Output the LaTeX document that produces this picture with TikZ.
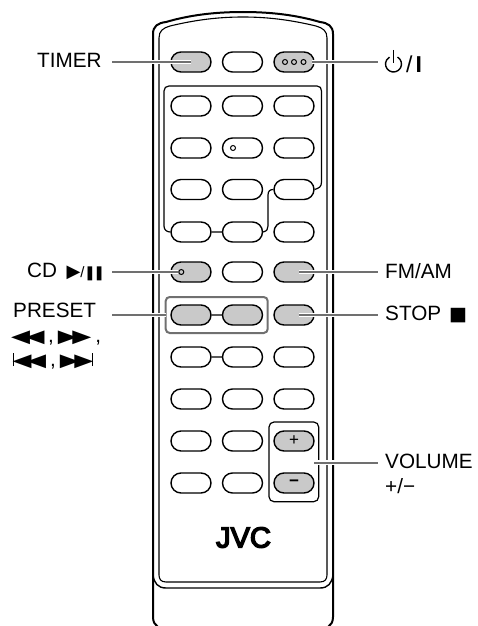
\documentclass[tikz,border=0pt]{standalone}
\usepackage{fontspec}
\setmainfont{Liberation Sans}
\newfontfamily\symfont{DejaVu Sans}
\newfontfamily\logofont[FakeBold=5]{Liberation Sans}
\usetikzlibrary{shapes.misc}
\definecolor{keyon}{HTML}{C9C9C9}
\definecolor{leadgray}{HTML}{707070}
\newcommand{\rwd}{\scalebox{1.3}[0.95]{\symfont\fontsize{19}{20}\selectfont ◀\kern-3.5pt◀}}
\newcommand{\fwd}{\scalebox{1.3}[0.95]{\symfont\fontsize{19}{20}\selectfont ▶\kern-3.5pt▶}}
\tikzset{
  btn/.style={rounded rectangle,draw,line width=1.4pt,minimum width=40pt,minimum height=20pt,inner sep=0pt},
  leader/.style={leadgray,line width=2pt,preaction={draw=white,line width=4.2pt}},
  lbl/.style={anchor=base west,inner sep=0pt,font=\fontsize{20.7}{24}\selectfont},
  panel/.style={line width=1.2pt,rounded corners=5pt}
}
\begin{document}
\begin{tikzpicture}[x=1pt,y=-1pt]
\useasboundingbox (0,0) rectangle (477,626);

% Remote body
\draw[line width=2pt] (158,627) .. controls (155,625) and (153,622) .. (153,617) -- (153,34)
  .. controls (153,26) and (158,23) .. (166,22) .. controls (190,15) and (215,12) .. (243,12)
  .. controls (271,12) and (296,15) .. (320,22) .. controls (328,23) and (333,26) .. (333,34)
  -- (333,617) .. controls (333,622) and (331,625) .. (328,627);
\draw[line width=1.1pt] (159,575) -- (159,38) .. controls (159,31) and (163,28) .. (170,26)
  .. controls (195,20) and (218,17) .. (243,17) .. controls (268,17) and (291,20) .. (316,26)
  .. controls (323,28) and (327,31) .. (327,38) -- (327,575)
  .. controls (327,579) and (325,582) .. (320,582) -- (166,582) .. controls (161,582) and (159,579) .. (159,575);
\draw[line width=1.4pt] (153,575) .. controls (154,583) and (158,588) .. (166,588) -- (320,588)
  .. controls (328,588) and (332,583) .. (333,575);

% Buttons
\foreach \r/\y/\fa/\fb/\fc in {1/62/keyon/white/keyon, 2/106/white/white/white, 3/148/white/white/white,
    4/189.5/white/white/white, 5/232/white/white/white, 6/272/keyon/white/keyon, 7/315/keyon/keyon/keyon,
    8/357/white/white/white, 9/399/white/white/white, 10/441/white/white/keyon, 11/483/white/white/keyon} {
  \node[btn,fill=\fa] (b\r a) at (191,\y) {};
  \node[btn,fill=\fb] (b\r b) at (242.5,\y) {};
  \node[btn,fill=\fc] (b\r c) at (294,\y) {};
}
\node[inner sep=0pt,font=\fontsize{17}{17}\selectfont] (plus) at (b10c) {+};
\node[inner sep=0pt,font=\fontsize{17}{17}\selectfont\bfseries] (minus) at (b11c) {−};

% Button groups
\draw[line width=1.2pt] (b4c.east) .. controls (319,188) and (321.5,187) .. (321.5,182) -- (321.5,91)
  .. controls (321.5,88) and (320,86) .. (317,86) -- (169,86) .. controls (166,86) and (164,88) .. (164,91)
  -- (164,226) .. controls (164,230) and (167,232) .. (b5a.west);
\draw[line width=1.2pt] (b5a) -- (b5b);
\draw[line width=1.2pt] (b5b.east) .. controls (267,231) and (268,229) .. (268,226) -- (268,195)
  .. controls (268,191) and (270,189.5) .. (b4c.west);
\draw[line width=1.2pt] (b7a) -- (b7b);
\draw[line width=1.2pt] (b8a) -- (b8b);
\draw[panel,leadgray,line width=2pt,rounded corners=4pt] (165.7,297) rectangle (267.7,333);
\draw[panel] (269,422) rectangle (318.7,501.7);

% Logo
\node[inner sep=0pt,font=\logofont\fontsize{29}{30}\selectfont] (logo) at (243.5,537.5) {JVC};

% Labels
\node[lbl] (timer) at (37,67) {TIMER};
\node[lbl] (cd) at (27,277) {CD\kern9.5pt{\symfont\fontsize{18}{18}\selectfont ▶}{\fontsize{15}{15}\selectfont /}\kern-0.5pt{\symfont\fontsize{14}{14}\selectfont ❚\kern-2.5pt❚}};
\node[lbl] (preset) at (13,317.5) {PRESET};
\node[lbl] (presetb) at (11,342) {\rwd\kern3.5pt,\kern4pt\fwd\kern4pt,};
\node[lbl] (presetc) at (12.5,366) {\rule[0pt]{1pt}{13pt}\kern-1pt\rwd\kern4pt,\kern4pt\fwd\kern-1pt\rule[0pt]{1pt}{13pt}};
\node[lbl] (fmam) at (385,278) {FM/AM};
\node[lbl] (stop) at (385,320) {STOP\kern8pt{\symfont\fontsize{19}{20}\selectfont ■}};
\node[lbl] (volume) at (385,468) {VOLUME};
\node[lbl] (volsign) at (385,493) {+/−};
\node[lbl,font=\fontsize{23}{24}\selectfont] (standby) at (406,72) {/\kern3pt\textbf{I}};

% Power symbol
\draw[line width=1.4pt] (393.5,64) ++(-60:8) arc[start angle=-60,end angle=240,radius=8];
\draw[line width=1.4pt] (393.5,50) -- (393.5,63);

% Leaders
\coordinate (timerend) at (112,62);
\coordinate (powerend) at (378,62);
\coordinate (cdend) at (112,272);
\coordinate (fmend) at (378,272);
\coordinate (presetend) at (112,315);
\coordinate (stopend) at (378,315);
\coordinate (volend) at (378,462.5);
\coordinate (volstart) at (314,462.5);
\coordinate (presetedge) at (165.7,315);
\coordinate (cdkey) at (178,272);
\coordinate (powerkey) at (312,62);
\coordinate (fmkey) at (299,272);
\coordinate (stopkey) at (299,315);
\draw[leader] (b1a.center) -- (timerend);
\draw[leader] (powerkey) -- (powerend);
\draw[leader] (cdkey) -- (cdend);
\draw[leader] (fmkey) -- (fmend);
\draw[leader] (presetedge) -- (presetend);
\draw[leader] (stopkey) -- (stopend);
\draw[leader] (volstart) -- (volend);

% Small dots on the keys
\foreach \x/\y in {285/62, 294/62, 303.5/62, 233/148} {
  \draw[line width=1pt] (\x,\y) circle[radius=2.5];
}
\draw[line width=1pt,fill=keyon] (181.3,272) circle[radius=2.5];
\end{tikzpicture}
\end{document}
